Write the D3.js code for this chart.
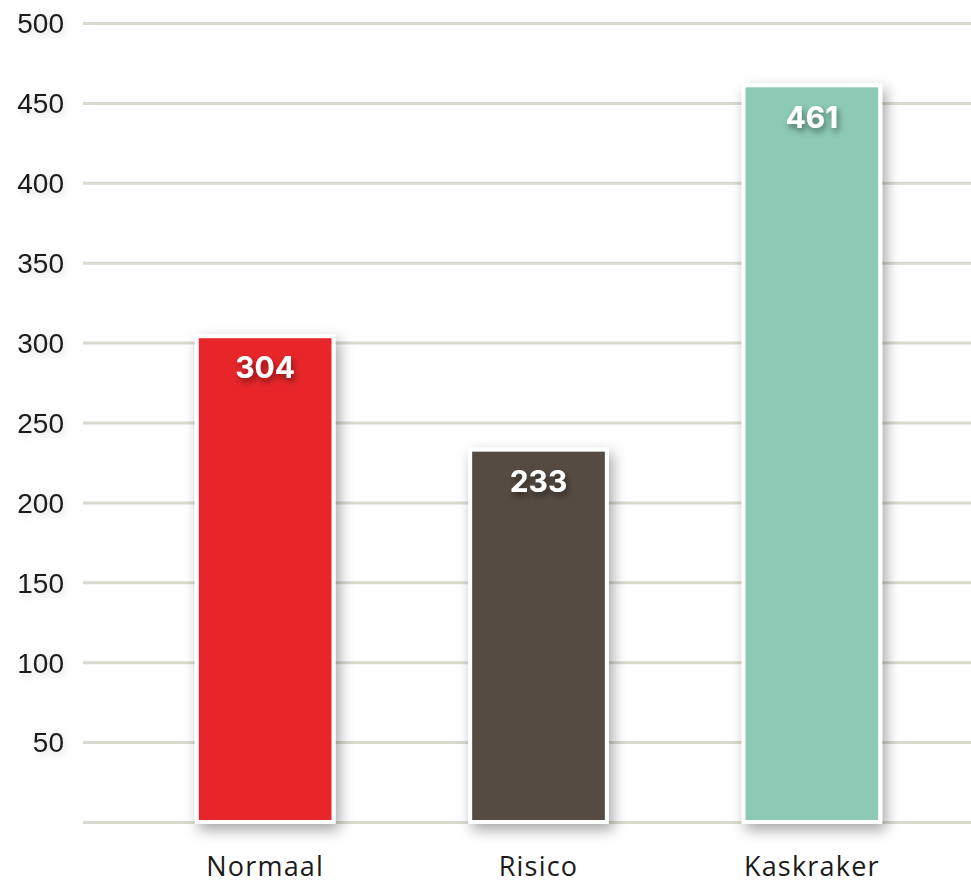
<!DOCTYPE html>
<html><head><meta charset="utf-8">
<script src="https://cdn.jsdelivr.net/npm/d3@7"></script>
<style>body{margin:0;background:#fff}svg{display:block}</style>
</head><body>
<script>
const categories = ["Normaal", "Risico", "Kaskraker"];
const values = [304, 233, 461];
const colors = ["#e8282c", "#544b42", "#8ccab5"];
const yTicks = [50, 100, 150, 200, 250, 300, 350, 400, 450, 500];

const W = 971, H = 886;
const svg = d3.select("body").append("svg").attr("width", W).attr("height", H);
const defs = svg.append("defs");
const f = defs.append("filter").attr("id","sh").attr("x","-30%").attr("y","-30%").attr("width","160%").attr("height","160%");
f.append("feDropShadow").attr("dx",4).attr("dy",6).attr("stdDeviation",7).attr("flood-color","#000").attr("flood-opacity",0.35);
const t = defs.append("filter").attr("id","tsh").attr("x","-30%").attr("y","-30%").attr("width","160%").attr("height","180%");
t.append("feDropShadow").attr("dx",2).attr("dy",4).attr("stdDeviation",3).attr("flood-color","#000").attr("flood-opacity",0.45);
const t2 = defs.append("filter").attr("id","tsh2").attr("x","-30%").attr("y","-30%").attr("width","160%").attr("height","180%");
t2.append("feDropShadow").attr("dx",2).attr("dy",3).attr("stdDeviation",3).attr("flood-color","#000").attr("flood-opacity",0.15);

const y = d3.scaleLinear().domain([0, 500]).range([822, 23]);
const x = d3.scaleBand().domain(categories).range([128.5, 948.5]).paddingInner(0.5).paddingOuter(0.25);

// gridlines
const grid = svg.append("g")
  .call(d3.axisLeft(y).tickValues([0].concat(yTicks)).tickSize(-(W-83)).tickFormat(""))
  .attr("transform","translate(83,0)");
grid.select(".domain").remove();
grid.selectAll(".tick line").attr("stroke","#d9d9cf").attr("stroke-width",3);

// y tick labels
const yAxis = svg.append("g").attr("transform","translate(64,0)")
  .call(d3.axisLeft(y).tickValues(yTicks).tickSize(0).tickPadding(0));
yAxis.select(".domain").remove();
yAxis.selectAll("text").attr("font-family","'Liberation Sans', Arial, sans-serif")
  .attr("font-size",28).attr("fill","#1a1a1a").attr("filter","url(#tsh2)").attr("dy","0.35em");

// bars
const data = categories.map((c,i)=>({c, v: values[i], col: colors[i]}));
svg.append("g").selectAll("rect").data(data).join("rect")
  .attr("x", d=>x(d.c)).attr("width", x.bandwidth())
  .attr("y", d=>y(d.v)).attr("height", d=>y(0)-y(d.v))
  .attr("fill", d=>d.col).attr("stroke","#fff").attr("stroke-width",4)
  .attr("filter","url(#sh)");

// value labels
svg.append("g").selectAll("text").data(data).join("text")
  .attr("x", d=>x(d.c)+x.bandwidth()/2).attr("y", d=>y(d.v)+34)
  .attr("text-anchor","middle").attr("dominant-baseline","middle")
  .attr("font-family","Inter, 'Open Sans', sans-serif").attr("font-weight",700)
  .attr("font-size",30).attr("fill","#fff").attr("filter","url(#tsh)")
  .text(d=>d.v);

// x labels
const xAxis = svg.append("g").attr("transform","translate(0,822)")
  .call(d3.axisBottom(x).tickSize(0).tickPadding(40));
xAxis.select(".domain").remove();
xAxis.selectAll("text").attr("font-family","'Open Sans', sans-serif").attr("font-weight",400)
  .attr("font-size",27).attr("letter-spacing","1.2px").attr("fill","#1a1a1a").attr("dy","0.5em");
</script>
</body></html>
